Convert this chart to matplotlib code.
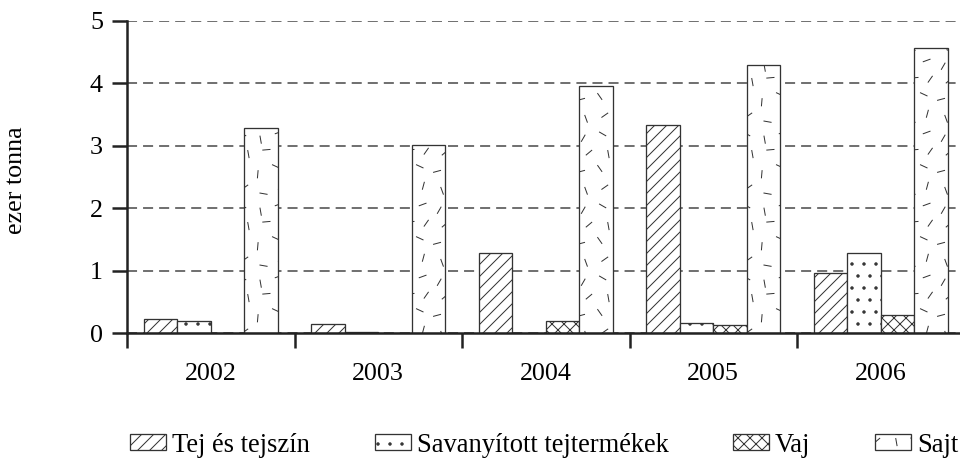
import numpy as np
import matplotlib.pyplot as plt
import matplotlib.hatch as mhatch
from matplotlib.path import Path

# Data
years = ['2002', '2003', '2004', '2005', '2006']
tej = [0.23, 0.15, 1.28, 3.33, 0.96]
savanyitott = [0.20, 0.02, 0.00, 0.17, 1.29]
vaj = [0.00, 0.00, 0.19, 0.14, 0.29]
sajt = [3.28, 3.02, 3.96, 4.30, 4.57]
names = ['Tej és tejszín', 'Savanyított tejtermékek', 'Vaj', 'Sajt']


# scattered short dashes hatch (replaces the '*' stars pattern)
class DashHatch(mhatch.HatchPatternBase):
    marks = [(0.10, 0.08, 60), (0.37, 0.14, -30), (0.62, 0.06, 100), (0.87, 0.16, 20),
             (0.14, 0.35, -70), (0.40, 0.40, 35), (0.66, 0.31, -10), (0.88, 0.42, 75),
             (0.07, 0.62, 15), (0.33, 0.66, -55), (0.58, 0.58, 85), (0.83, 0.69, -25),
             (0.18, 0.88, 40), (0.45, 0.86, -80), (0.70, 0.92, 5), (0.92, 0.90, 55)]

    def __init__(self, hatch, density):
        self.num_vertices = 2 * len(self.marks) if '*' in hatch else 0

    def set_vertices_and_codes(self, vertices, codes):
        for i, (cx, cy, a) in enumerate(self.marks):
            dx = 0.05 * np.cos(np.radians(a))
            dy = 0.05 * np.sin(np.radians(a))
            vertices[2 * i] = (cx - dx, cy - dy)
            vertices[2 * i + 1] = (cx + dx, cy + dy)
        codes[0::2] = Path.MOVETO
        codes[1::2] = Path.LINETO


mhatch._hatch_types = [t for t in mhatch._hatch_types if t is not mhatch.Stars] + [DashHatch]

plt.rcParams['font.family'] = ['Liberation Serif', 'DejaVu Serif']
plt.rcParams['font.size'] = 26
plt.rcParams['hatch.linewidth'] = 1.0

fig = plt.figure(figsize=(960 / 72, 474 / 72), dpi=72)
ax = fig.add_axes([127 / 960, 1 - 333.3 / 474, 837.5 / 960, 312.5 / 474])

x = np.arange(len(years))
w = 0.2
series = [tej, savanyitott, vaj, sajt]
hatches = ['//', '.', 'xx', '*']
for i, (vals, name, h) in enumerate(zip(series, names, hatches)):
    ax.bar(x + (i - 1.5) * w, vals, w, label=name, color='white',
           edgecolor='#333333', linewidth=1.3, hatch=h, zorder=2)

ax.set_xlim(-0.5, 4.5)
ax.set_ylim(0, 5)
ax.set_yticks(range(6))
ax.set_xticks(np.arange(-0.5, 5, 1))
ax.set_xticklabels([])
ax.set_xticks(x, minor=True)
ax.set_xticklabels(years, minor=True)
ax.tick_params(axis='x', which='major', direction='out', length=15, width=2.5, color='#222222')
ax.tick_params(axis='x', which='minor', length=0, pad=30)
ax.tick_params(axis='y', direction='out', length=15, width=2.5, pad=9, color='#222222')

for s in ['top', 'right']:
    ax.spines[s].set_visible(False)
for s in ['left', 'bottom']:
    ax.spines[s].set_linewidth(2.5)
    ax.spines[s].set_color('#222222')

ax.yaxis.grid(True, linestyle=(0, (6.7, 4)), color='#444444', linewidth=1.5)
ax.set_axisbelow(True)

fig.text(16 / 960, 1 - 180 / 474, 'ezer tonna', rotation=90, ha='center', va='center')

fig.legend(loc='center left', bbox_to_anchor=(130 / 960, 1 - 445 / 474), ncol=4,
           frameon=False, borderpad=0, borderaxespad=0, fontsize=26.5,
           handlelength=1.36, handleheight=0.57, handletextpad=0.22, columnspacing=2.45)

fig.savefig('out.png', dpi=72)
